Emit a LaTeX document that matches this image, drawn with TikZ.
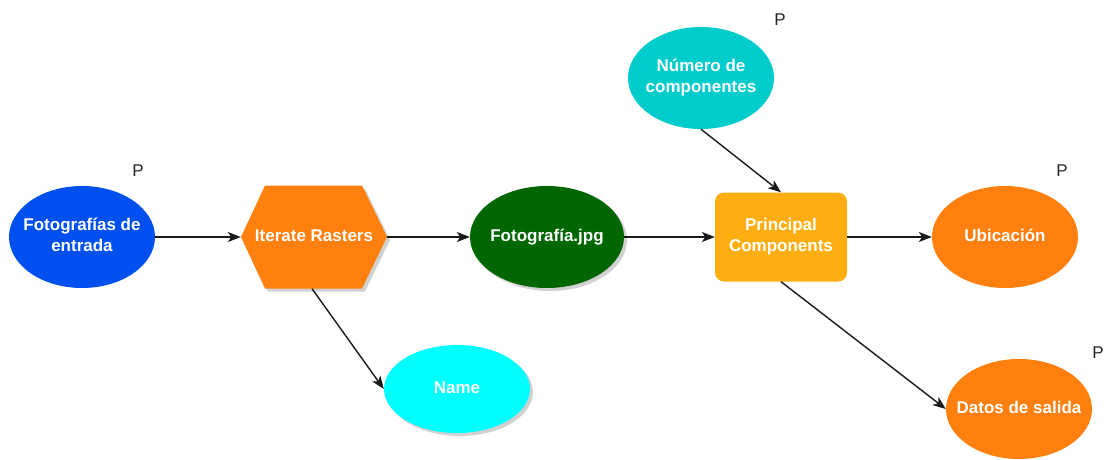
\documentclass[tikz,border=0pt]{standalone}
\usepackage{fontspec}
\setmainfont{Liberation Sans}
\usetikzlibrary{shapes.geometric,arrows.meta,calc,shadows}

\definecolor{inblue}{HTML}{0050EF}
\definecolor{darkgreen}{HTML}{006600}
\definecolor{tealc}{HTML}{00CCCC}
\definecolor{cyanc}{HTML}{00FFFF}
\definecolor{orangec}{HTML}{FF800E}
\definecolor{ambarc}{HTML}{FFAE12}

% centred label whose width does not enlarge the shape around it
\newcommand\lines[1]{\makebox[0pt]{\begin{tabular}{@{}c@{}}#1\end{tabular}}}

\tikzset{
  lbl/.style={font=\fontsize{17}{21}\selectfont\bfseries, text=white, align=center},
  oval/.style={ellipse, lbl, inner sep=0pt, minimum width=146pt, minimum height=102pt},
  shad/.style={drop shadow={shadow xshift=3pt, shadow yshift=-3pt, opacity=0.3, fill=black!60}},
  ptag/.style={font=\fontsize{17}{20}\selectfont, text=black!85, inner sep=0pt},
  flow/.style={draw=black!90, line width=1.4pt, -{Stealth[length=13pt,width=10pt,inset=3.5pt]}},
}

\begin{document}
\begin{tikzpicture}[x=1pt,y=-1pt]
\useasboundingbox (0,0) rectangle (1104,460);

% input parameter
\node[oval, fill=inblue] (fotos) at (82,237) {\lines{Fotografías de\\entrada}};
\node[ptag] (pfotos) at (138,171) {P};

% iterator (hexagon)
\coordinate (hc) at (314,237);
\fill[orangec, shad] ($(hc)+(-73,0)$) -- ($(hc)+(-49,-51.5)$) -- ($(hc)+(48,-51.5)$)
  -- ($(hc)+(73,0)$) -- ($(hc)+(48,51.5)$) -- ($(hc)+(-49,51.5)$) -- cycle;
\node[lbl, inner sep=0pt, minimum width=146pt, minimum height=103pt] (iter) at (hc) {\lines{Iterate Rasters}};

% iterated raster
\node[oval, fill=darkgreen, shad, minimum width=154pt] (foto) at (547,237) {\lines{Fotografía.jpg}};

% name output of the iterator
\node[oval, fill=cyanc, shad, minimum height=88pt] (name) at (457,389) {\lines{Name}};

% number of components parameter
\node[oval, fill=tealc] (num) at (701,78) {\lines{Número de\\componentes}};
\node[ptag] (pnum) at (780,20) {P};

% tool
\node[lbl, fill=ambarc, rounded corners=9pt, minimum width=132pt, minimum height=89pt, inner sep=0pt] (pc) at (781,237) {\lines{Principal\\Components}};

% outputs
\node[oval, fill=orangec] (ubic) at (1005,237) {\lines{Ubicación}};
\node[ptag] (pubic) at (1062,171) {P};

\node[oval, fill=orangec, minimum height=100pt] (datos) at (1019,409) {\lines{Datos de salida}};
\node[ptag] (pdatos) at (1098,353) {P};

% connectors
\draw[flow] (fotos.east) -- (iter.west);
\draw[flow] (iter.east) -- (foto.west);
\draw[flow] (foto.east) -- (pc.west);
\draw[flow] (pc.east) -- (ubic.west);
\draw[flow] (num.south) -- (pc.north);
\draw[flow] ($(iter.south)+(-2,0)$) -- (name.west);
\draw[flow] (pc.south) -- (datos.west);
\end{tikzpicture}
\end{document}
